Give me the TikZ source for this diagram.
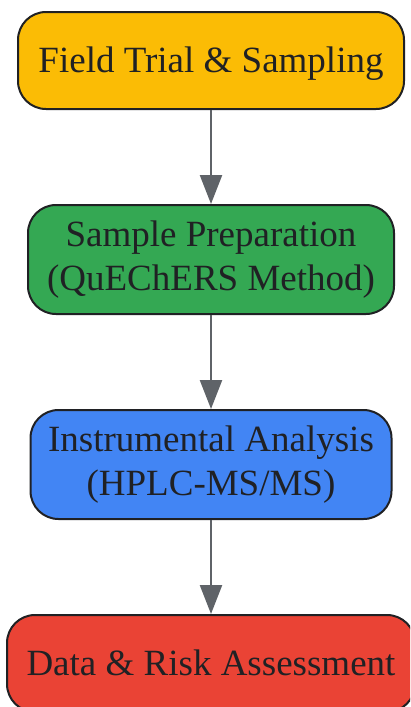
\documentclass[tikz,border=0pt]{standalone}
\usepackage{fontspec}
\setmainfont{Liberation Serif}
\usepackage{tikz}
\usetikzlibrary{arrows.meta, positioning}

\definecolor{stageYellow}{HTML}{FBBC05}
\definecolor{stageGreen}{HTML}{34A853}
\definecolor{stageBlue}{HTML}{4285F4}
\definecolor{stageRed}{HTML}{EA4335}
\definecolor{edgeGray}{HTML}{5F6368}
\definecolor{inkDark}{HTML}{202124}

\begin{document}
\begin{tikzpicture}[x=1pt, y=1pt, node distance=94pt,
    stagebox/.style={draw=inkDark, line width=2pt, rectangle, rounded corners=28pt, align=center, text=inkDark, inner sep=0pt, font=\fontsize{37}{44}\selectfont},
    flow/.style={draw=edgeGray, line width=2.4pt, -{Triangle[width=22pt, length=29pt]}}]

    % Frame of the picture
    \clip (0,0) rectangle (410,-707);

    % Nodes for the four stages
    \node (fieldTrial) [stagebox, fill=stageYellow, minimum width=386pt, minimum height=97pt, text depth=2pt] at (211,-60.5) {Field Trial \& Sampling};
    \node (samplePrep) [stagebox, fill=stageGreen, minimum width=366pt, minimum height=109pt, below=of fieldTrial] {Sample Preparation\\(QuEChERS Method)};
    \node (instrAnalysis) [stagebox, fill=stageBlue, minimum width=361pt, minimum height=109pt, below=of samplePrep] {Instrumental Analysis\\(HPLC-MS/MS)};
    \node (riskAssess) [stagebox, fill=stageRed, minimum width=408pt, minimum height=97pt, text depth=2pt, below=of instrAnalysis] {Data \& Risk Assessment};

    % Draw arrows from each stage to the next
    \draw[flow] (fieldTrial) -- (samplePrep);
    \draw[flow] (samplePrep) -- (instrAnalysis);
    \draw[flow] (instrAnalysis) -- (riskAssess);

\end{tikzpicture}
\end{document}
